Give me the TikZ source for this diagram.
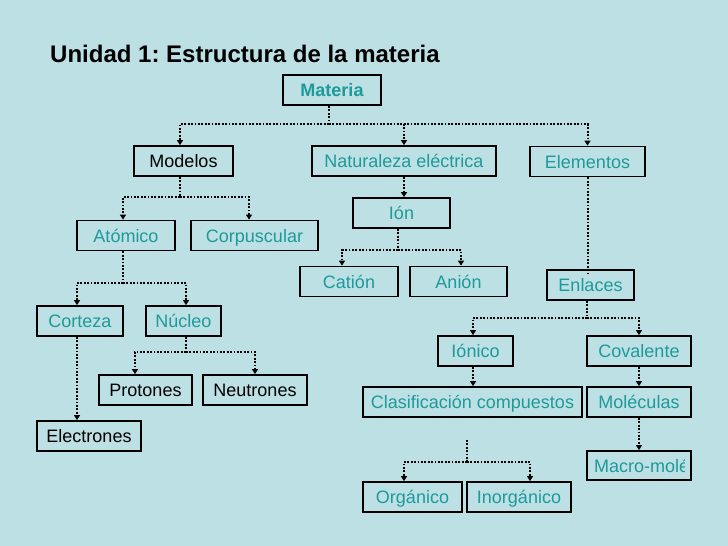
\documentclass[tikz,border=0pt]{standalone}
\usepackage{fontspec}
\setmainfont{Liberation Sans}
\usetikzlibrary{arrows.meta}
\definecolor{bgcol}{HTML}{BCE0E4}
\definecolor{tealtext}{HTML}{1E9A9A}
\frenchspacing
\begin{document}
\begin{tikzpicture}[x=1pt, y=-1pt,
    box/.style={draw, line width=1.8pt, rectangle, inner sep=0pt, minimum height=30pt,
      text height=13pt, text depth=0pt, font=\fontsize{18}{21}\selectfont, text=tealtext},
    dark/.style={text=black},
    link/.style={line width=2pt, dash pattern=on 1.8pt off 1.6pt},
    arr/.style={link, -{Triangle[length=5pt, width=6pt]}}]
    \fill[bgcol] (0,0) rectangle (728,546);
    \useasboundingbox (0,0) rectangle (728,546);

    \node (title) at (50,62) [anchor=base west, inner sep=0pt, font=\fontsize{24}{28}\selectfont\bfseries]
        {Unidad 1: Estructura de la materia};

    \node (materia) at (332,90) [box, minimum width=98pt, font=\fontsize{18}{21}\selectfont\bfseries] {Materia};
    \node (modelos) at (183.5,161) [box, dark, minimum width=99pt] {Modelos};
    \node (natur) at (404,161) [box, minimum width=184pt] {Naturaleza eléctrica};
    \node (elem) at (587.5,161.5) [box, minimum width=115pt] {Elementos};

    \node (atomico) at (126,235.5) [box, minimum width=98pt] {Atómico};
    \node (corpus) at (254.5,235.5) [box, minimum width=127pt] {Corpuscular};
    \node (ion) at (401.5,213) [box, minimum width=97pt] {Ión};
    \node (cation) at (349,281.5) [box, minimum width=98pt] {Catión};
    \node (anion) at (458.5,281.5) [box, minimum width=97pt] {Anión};
    \node (enlaces) at (590.5,285) [box, minimum width=87pt] {Enlaces};

    \node (corteza) at (80,321) [box, minimum width=86pt] {Corteza};
    \node (nucleo) at (183.5,321) [box, minimum width=75pt] {Núcleo};
    \node (protones) at (145.5,390) [box, dark, minimum width=93pt] {Protones};
    \node (neutrones) at (255,390) [box, dark, minimum width=104pt] {Neutrones};
    \node (electrones) at (89,436) [box, dark, minimum width=104pt] {Electrones};

    \node (ionico) at (475.5,351) [box, minimum width=75pt] {Iónico};
    \node (covalente) at (639,351) [box, minimum width=104pt] {Covalente};
    \node (clasif) at (472.5,402) [box, minimum width=219pt] {Clasificación compuestos};
    \node (moleculas) at (639,402) [box, minimum width=104pt] {Moléculas};
    \node (organico) at (412.5,497) [box, minimum width=99pt] {Orgánico};
    \node (inorg) at (519,497) [box, minimum width=104pt] {Inorgánico};

    % texto cortado por el borde
    \begin{scope}
        \clip (587,451) rectangle (684,480);
        \node (macrotxt) at (594,472) [anchor=base west, text=tealtext, inner sep=0pt,
            font=\fontsize{18}{21}\selectfont] {Macro-moléculas};
    \end{scope}
    \node (macro) at (639,465.5) [box, minimum width=104pt, minimum height=29pt] {};

    \coordinate (bm) at (329,124);
    \coordinate (bmo) at (180,197);
    \coordinate (bi) at (398,250);
    \coordinate (ba) at (123,283);
    \coordinate (bn) at (186,352);
    \coordinate (be) at (587,318);
    \coordinate (bc) at (467,440);

    \draw[link] (materia.south -| bm) -- (bm);
    \draw[arr] (bm) -| ([xshift=-3.5pt]modelos.north);
    \draw[arr] (bm) -| (natur.north);
    \draw[arr] (bm) -| (elem.north);

    \draw[link] (modelos.south -| bmo) -- (bmo);
    \draw[arr] (bmo) -| ([xshift=-3pt]atomico.north);
    \draw[arr] (bmo) -| ([xshift=-5.5pt]corpus.north);

    \draw[arr] (natur.south) -- (natur.south |- ion.north);
    \draw[link] (ion.south -| bi) -- (bi);
    \draw[arr] (bi) -| ([xshift=-7pt]cation.north);
    \draw[arr] (bi) -| ([xshift=2.5pt]anion.north);

    \draw[link] (elem.south) -- ([yshift=-4pt]enlaces.north -| elem.south);

    \draw[link] (atomico.south -| ba) -- (ba);
    \draw[arr] (ba) -| ([xshift=-3pt]corteza.north);
    \draw[arr] (ba) -| ([xshift=2.5pt]nucleo.north);

    \draw[arr] ([xshift=-3pt]corteza.south) -- ([xshift=-3pt]corteza.south |- electrones.north);

    \draw[link] (nucleo.south -| bn) -- (bn);
    \draw[arr] (bn) -| ([xshift=-10.5pt]protones.north);
    \draw[arr] (bn) -| (neutrones.north);

    \draw[link] (enlaces.south -| be) -- (be);
    \draw[arr] (be) -| ([xshift=-2.5pt]ionico.north);
    \draw[arr] (be) -| (covalente.north);

    \draw[arr] ([xshift=-2.5pt]ionico.south) -- ([xshift=-2.5pt]ionico.south |- clasif.north);
    \draw[arr] (covalente.south) -- (moleculas.north);
    \draw[arr] (moleculas.south) -- (macro.north);

    \draw[link] (bc) -- ++(0,22) coordinate (bc2);
    \draw[arr] (bc2) -| ([xshift=-8.5pt]organico.north);
    \draw[arr] (bc2) -| ([xshift=11pt]inorg.north);
\end{tikzpicture}
\end{document}
